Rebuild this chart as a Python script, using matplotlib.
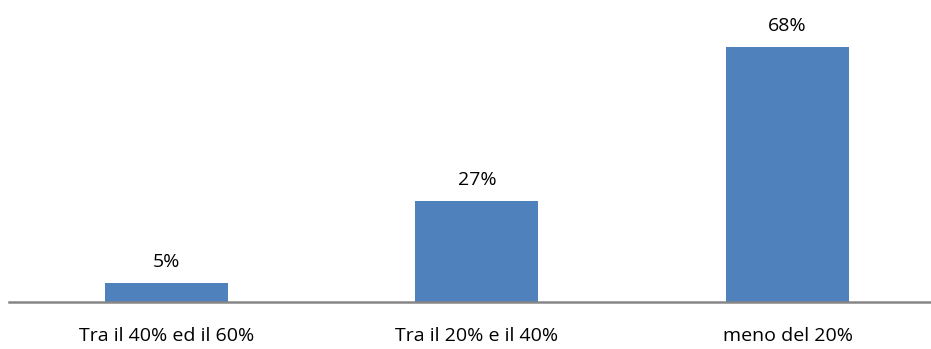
import matplotlib
matplotlib.use('Agg')
import matplotlib.pyplot as plt

categories = ['Tra il 40% ed il 60%', 'Tra il 20% e il 40%', 'meno del 20%']
values = [5, 27, 68]

BLUE = '#4F81BD'
GRAY = '#868686'

plt.rcParams['font.family'] = ['Open Sans', 'DejaVu Sans']

fig = plt.figure(figsize=(9.31, 3.49), dpi=100)
ax = fig.add_axes([9 / 931, 47 / 349, 922 / 931, 302 / 349])

x = list(range(len(categories)))
bars = ax.bar(x, values, width=0.396, color=BLUE)
for xi, v in zip(x, values):
    ax.text(xi, v + 3.2, f'{v}%', ha='center', va='bottom', fontsize=14, color='black')

ax.set_xlim(-0.507, 2.462)
ax.set_ylim(0, 80.5)
ax.set_yticks([])
ax.set_xticks(x)
ax.set_xticklabels(categories, fontsize=14)
ax.tick_params(axis='x', length=0, pad=18)
for s in ['top', 'right', 'left']:
    ax.spines[s].set_visible(False)
ax.spines['bottom'].set_color(GRAY)
ax.spines['bottom'].set_linewidth(1.8)

fig.savefig('out.png', dpi=100)
